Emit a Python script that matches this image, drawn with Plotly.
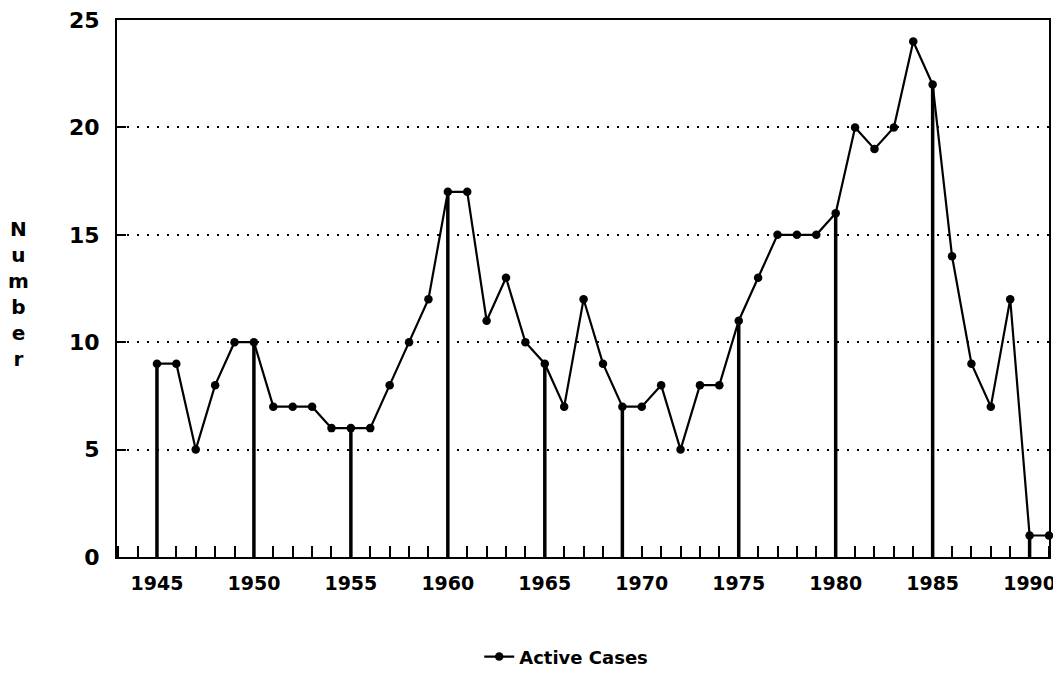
import plotly.graph_objects as go

years = list(range(1945, 1992))
active_cases = [9, 9, 5, 8, 10, 10, 7, 7, 7, 6, 6, 6, 8, 10, 12, 17, 17, 11, 13, 10,
                9, 7, 12, 9, 7, 7, 8, 5, 8, 8, 11, 13, 15, 15, 15, 16, 20, 19, 20, 24,
                22, 14, 9, 7, 12, 1, 1]
drop_years = [1945, 1950, 1955, 1960, 1965, 1969, 1975, 1980, 1985, 1990]
x_tick_vals = [1945, 1950, 1955, 1960, 1965, 1970, 1975, 1980, 1985, 1990]
x_tick_text = ["1945", "1950", "1955", "1960", "1965", "1970", "1975", "1980", "1985", "1990"]
y_tick_vals = [0, 5, 10, 15, 20, 25]
series_name = "Active Cases"
y_title = "Number"

FONT = "DejaVu Sans"
value_of = dict(zip(years, active_cases))

drop_x, drop_y = [], []
for yr in drop_years:
    drop_x += [yr, yr, None]
    drop_y += [0, value_of[yr], None]

fig = go.Figure()
fig.add_trace(go.Scatter(x=drop_x, y=drop_y, mode="lines",
                         line=dict(color="black", width=3.5),
                         showlegend=False, hoverinfo="skip"))
fig.add_trace(go.Scatter(x=years, y=active_cases, mode="lines+markers", name=series_name,
                         line=dict(color="black", width=2.2),
                         marker=dict(color="black", size=8.5, symbol="circle"),
                         cliponaxis=False))

W, H = 1061, 674
L, R, T, B = 109, 20, 12, 125
PW = W - L - R
fig.update_layout(
    width=W, height=H,
    margin=dict(l=L, r=R, t=T, b=B, autoexpand=False),
    paper_bgcolor="white", plot_bgcolor="white",
    font=dict(family=FONT, color="black"),
    showlegend=True,
    legend=dict(orientation="h", x=0.482, xanchor="center", y=-0.186, yanchor="middle",
                font=dict(family=FONT, size=18, color="black", weight="bold"),
                itemwidth=30),
    xaxis=dict(range=[1942.94, 1991], tickmode="array", tickvals=x_tick_vals,
               ticktext=x_tick_text, ticks="", showgrid=False, zeroline=False,
               automargin=False, ticklabeloverflow="allow",
               showline=True, linecolor="black", linewidth=2, mirror=True,
               tickfont=dict(family=FONT, size=19, color="black", weight="bold"),
               ticklabelstandoff=8,
               minor=dict(tickmode="array", tickvals=list(range(1943, 1992)),
                          ticks="inside", ticklen=11, tickwidth=2, tickcolor="black",
                          showgrid=False)),
    yaxis=dict(range=[0, 25], tickmode="array", tickvals=y_tick_vals,
               ticks="inside", ticklen=9, tickwidth=2, tickcolor="black",
               showgrid=True, gridcolor="black", gridwidth=2, griddash="2px,8px",
               zeroline=False, showline=True, linecolor="black", linewidth=2, mirror=True,
               automargin=False, ticklabeloverflow="allow",
               tickfont=dict(family=FONT, size=22, color="black", weight="bold"),
               ticklabelstandoff=11),
    annotations=[dict(text="<br>".join(list(y_title)),
                      x=(10 - L) / PW, xref="paper", xanchor="center",
                      y=0.49, yref="paper", yanchor="middle", showarrow=False,
                      font=dict(family=FONT, size=20, color="black", weight="bold"))],
)

fig.write_html("out.html")
